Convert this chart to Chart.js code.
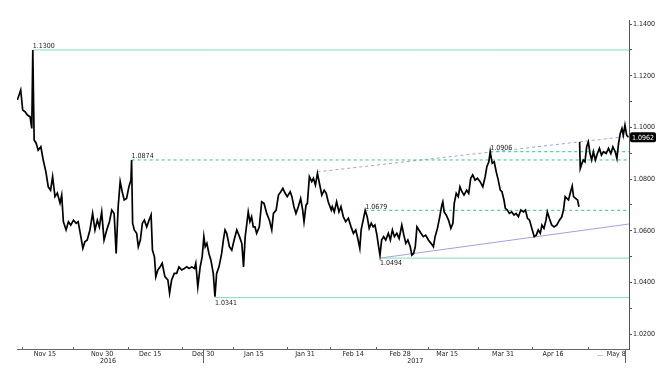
<!DOCTYPE html>
<html>
<head>
<meta charset="utf-8">
<script src="https://cdn.jsdelivr.net/npm/chart.js@4/dist/chart.umd.min.js"></script>
<style>
  body { margin: 0; background: #fff; }
</style>
</head>
<body>
<canvas id="fx-chart" width="666" height="375"></canvas>
<script>
// price series: x is the session position on the axis, y the close
const sessions = [
  0.1, 1.1, 1.7, 2.4, 3.1, 3.9, 4.4, 4.7, 5.1, 5.7, 6.3, 7.1, 7.8, 8.6, 9.3, 10.0, 10.6, 11.3, 12.0, 12.8,
  13.3, 13.8, 14.6, 15.3, 16.0, 16.8, 17.6, 18.2, 19.0, 19.6, 20.2, 20.9, 21.7, 22.5, 23.2, 23.9, 24.5, 25.2, 25.9, 26.7,
  27.5, 28.2, 28.9, 29.5, 30.1, 30.7, 31.3, 31.9, 32.6, 33.3, 33.9, 34.1, 34.4, 34.9, 35.6, 36.1, 36.7, 37.3, 37.9, 38.6,
  39.3, 39.9, 40.3, 40.9, 41.3, 41.9, 42.6, 43.2, 44.0, 44.9, 45.4, 46.0, 46.8, 47.5, 48.2, 49.0, 49.8, 50.5, 51.2, 52.0,
  52.8, 53.2, 53.8, 54.5, 55.1, 55.6, 56.0, 56.5, 57.1, 57.7, 58.4, 58.9, 59.4, 60.1, 60.9, 61.4, 61.9, 62.4, 63.2, 63.9,
  64.6, 65.4, 66.2, 66.9, 67.4, 67.9, 68.4, 68.8, 69.3, 69.8, 70.3, 70.8, 71.3, 72.1, 72.8, 73.5, 74.3, 75.1, 75.8, 76.3,
  77.1, 77.8, 78.5, 79.1, 79.8, 80.4, 81.3, 81.8, 82.4, 83.0, 83.7, 84.4, 85.0, 85.4, 86.0, 86.4, 87.0, 87.7, 88.2, 88.8,
  89.4, 90.0, 90.7, 91.4, 92.0, 92.6, 93.5, 93.8, 94.4, 95.1, 95.8, 96.4, 97.1, 97.8, 98.6, 99.4, 100.1, 100.8, 101.4, 102.0,
  102.4, 103.0, 103.6, 104.2, 104.8, 105.4, 106.0, 106.5, 107.1, 107.6, 108.0, 108.5, 109.1, 109.7, 110.5, 111.1, 111.7, 112.3, 113.0, 113.7,
  114.5, 115.1, 115.7, 116.3, 117.0, 117.5, 118.0, 118.5, 119.0, 119.6, 120.2, 120.9, 121.6, 122.4, 123.2, 123.9, 124.4, 125.1, 125.7, 126.4,
  126.7, 127.1, 127.7, 128.4, 129.1, 129.7, 130.1, 130.7, 131.3, 131.8, 132.4, 133.0, 133.8, 134.4, 135.0, 135.6, 136.3, 137.0, 137.8, 138.6,
  139.3, 139.8, 140.4, 140.8, 141.4, 142.0, 142.6, 143.2, 143.8, 144.3, 144.9, 145.3, 145.9, 146.5, 147.2, 147.9, 148.5, 149.2, 149.9, 150.7,
  151.3, 151.9, 152.5, 153.2, 153.9, 154.5, 155.1, 155.7, 156.2, 156.8, 157.4, 157.8, 158.4, 159.1, 159.8, 160.6, 161.4, 162.1, 162.6, 163.1,
  163.6, 164.1, 164.6, 165.2, 165.6, 166.2, 166.8, 167.2, 167.3, 167.4, 167.6, 168.1, 168.5, 169.0, 169.5, 170.0, 170.5, 171.0, 171.5, 172.1,
  172.7, 173.3, 173.9, 174.5, 175.3, 176.0, 176.7, 177.3, 178.0, 178.5, 179.0, 179.5, 180.0, 180.4, 180.9, 181.4, 181.9
];
const closes = [
  1.1106, 1.1145, 1.1067, 1.1061, 1.1048, 1.1041, 1.0996, 1.1300, 1.0951, 1.0939, 1.0912, 1.0925, 1.0874, 1.0828, 1.0770, 1.0757, 1.0809, 1.0732, 1.0746, 1.0707,
  1.0738, 1.0635, 1.0603, 1.0635, 1.0622, 1.0641, 1.0629, 1.0635, 1.0577, 1.0532, 1.0557, 1.0564, 1.0603, 1.0667, 1.0603, 1.0641, 1.0615, 1.0673, 1.0564, 1.0603,
  1.0635, 1.0680, 1.0667, 1.0512, 1.0693, 1.0790, 1.0751, 1.0719, 1.0725, 1.0770, 1.0796, 1.0874, 1.0629, 1.0603, 1.0590, 1.0538, 1.0564, 1.0629, 1.0641, 1.0615,
  1.0641, 1.0661, 1.0525, 1.0499, 1.0422, 1.0448, 1.0460, 1.0474, 1.0422, 1.0409, 1.0358, 1.0409, 1.0435, 1.0435, 1.0460, 1.0448, 1.0454, 1.0460, 1.0454, 1.0460,
  1.0454, 1.0474, 1.0383, 1.0460, 1.0499, 1.0577, 1.0538, 1.0551, 1.0512, 1.0486, 1.0435, 1.0345, 1.0435, 1.0460, 1.0512, 1.0564, 1.0603, 1.0590, 1.0538, 1.0525,
  1.0564, 1.0603, 1.0577, 1.0551, 1.0460, 1.0577, 1.0629, 1.0673, 1.0635, 1.0654, 1.0615, 1.0615, 1.0590, 1.0615, 1.0712, 1.0706, 1.0667, 1.0641, 1.0603, 1.0667,
  1.0680, 1.0738, 1.0751, 1.0764, 1.0745, 1.0732, 1.0751, 1.0732, 1.0693, 1.0667, 1.0693, 1.0725, 1.0680, 1.0635, 1.0699, 1.0706, 1.0809, 1.0790, 1.0803, 1.0777,
  1.0822, 1.0783, 1.0738, 1.0757, 1.0745, 1.0712, 1.0680, 1.0693, 1.0673, 1.0712, 1.0673, 1.0693, 1.0654, 1.0635, 1.0648, 1.0615, 1.0590, 1.0603, 1.0570, 1.0532,
  1.0603, 1.0641, 1.0679, 1.0654, 1.0609, 1.0629, 1.0615, 1.0622, 1.0583, 1.0538, 1.0505, 1.0564, 1.0577, 1.0564, 1.0590, 1.0564, 1.0603, 1.0577, 1.0590, 1.0570,
  1.0622, 1.0583, 1.0551, 1.0564, 1.0538, 1.0506, 1.0512, 1.0538, 1.0615, 1.0603, 1.0590, 1.0577, 1.0583, 1.0564, 1.0551, 1.0538, 1.0577, 1.0609, 1.0648, 1.0699,
  1.0712, 1.0673, 1.0661, 1.0641, 1.0609, 1.0629, 1.0706, 1.0745, 1.0732, 1.0770, 1.0751, 1.0738, 1.0757, 1.0745, 1.0803, 1.0816, 1.0796, 1.0803, 1.0790, 1.0770,
  1.0809, 1.0848, 1.0867, 1.0906, 1.0861, 1.0867, 1.0828, 1.0796, 1.0757, 1.0751, 1.0719, 1.0687, 1.0680, 1.0667, 1.0673, 1.0661, 1.0667, 1.0654, 1.0680, 1.0673,
  1.0680, 1.0648, 1.0641, 1.0609, 1.0577, 1.0583, 1.0603, 1.0590, 1.0622, 1.0609, 1.0641, 1.0673, 1.0648, 1.0622, 1.0615, 1.0622, 1.0641, 1.0654, 1.0680, 1.0732,
  1.0725, 1.0719, 1.0745, 1.0773, 1.0732, 1.0725, 1.0719, 1.0693, null, 1.0944, 1.0841, 1.0861, 1.0874, 1.0867, 1.0925, 1.0944, 1.0899, 1.0874, 1.0906, 1.0874,
  1.0899, 1.0919, 1.0893, 1.0906, 1.0899, 1.0919, 1.0899, 1.0925, 1.0906, 1.0880, 1.0938, 1.0977, 1.0996, 1.0970, 1.1009, 1.0970, 1.0962
];

// horizontal levels (value, where it starts, style)
const levelValues = [1.1300, 1.0874, 1.0906, 1.0679, 1.0494, 1.0341];
const levelStart = [4.7, 34.1, 140.8, 103.6, 108.0, 58.9];
const levelDashed = [false, true, true, true, false, false];
const labelBelow = [false, false, false, false, true, true];

// trend lines: [start session, start value, end session, end value]
const upperTrend = [89.4, 1.0828, 182.1, 1.0966];
const lowerTrend = [108.0, 1.0494, 182.1, 1.0626];

// axes
const xLabels = ['Nov 15', 'Nov 30', 'Dec 15', 'Dec 30', 'Jan 15', 'Jan 31', 'Feb 14', 'Feb 28', 'Mar 15', 'Mar 31', 'Apr 16', '...', 'May 8'];
const xLabelPos = [8.3, 25.3, 39.6, 55.4, 70.5, 85.7, 100.0, 114.0, 128.0, 144.6, 159.5, 173.5, 178.3];
const xMarkPos = [1.5, 16.7, 33.0, 49.1, 64.3, 80.4, 93.2, 106.8, 122.3, 137.2, 153.3, 170.0];
const yearLabels = ['2016', '2017'];
const yearPos = [27.1, 118.5];
const yearBreaks = [55.4, 181.0];
const yTicks = [1.02, 1.03, 1.04, 1.05, 1.06, 1.07, 1.08, 1.09, 1.10, 1.11, 1.12, 1.13, 1.14];

const X_MIN = 0, X_MAX = 182.1;
const SMALL_FONT = '"DejaVu Sans Condensed", "DejaVu Sans", sans-serif';

const solidGreen = '#86dbbb';
const dashGreen = '#33c48a';
const lilac = '#9ea4da';

// build datasets
let priceData = sessions.map((s, i) => ({x: s, y: closes[i]}));

let datasets = [
  {
    label: 'EURUSD',
    data: priceData,
    borderColor: '#000',
    borderWidth: 1.7,
    pointRadius: 0,
    tension: 0,
    spanGaps: false,
  },
];

levelValues.forEach((v, i) => {
  datasets.push({
    label: 'level ' + v.toFixed(4),
    data: [{x: levelStart[i], y: v}, {x: X_MAX, y: v}],
    borderColor: levelDashed[i] ? dashGreen : solidGreen,
    borderWidth: 1,
    borderDash: levelDashed[i] ? [3, 3] : [],
    pointRadius: 0,
  });
});

datasets.push({
  label: 'upper trend',
  data: [{x: upperTrend[0], y: upperTrend[1]}, {x: upperTrend[2], y: upperTrend[3]}],
  borderColor: lilac,
  borderWidth: 1,
  borderDash: [3, 3],
  pointRadius: 0,
});
datasets.push({
  label: 'lower trend',
  data: [{x: lowerTrend[0], y: lowerTrend[1]}, {x: lowerTrend[2], y: lowerTrend[3]}],
  borderColor: lilac,
  borderWidth: 1,
  pointRadius: 0,
});

// level labels, last price badge, x tick marks and years
const decorations = {
  id: 'decorations',
  afterDraw(chart) {
    const {ctx, scales: {x, y}} = chart;
    ctx.save();
    ctx.font = '7px ' + SMALL_FONT;
    ctx.fillStyle = '#222';
    ctx.textAlign = 'left';
    levelValues.forEach((v, i) => {
      let px = x.getPixelForValue(levelStart[i]);
      let py = y.getPixelForValue(v);
      if (labelBelow[i]) {
        ctx.textBaseline = 'top';
        ctx.fillText(v.toFixed(4), px, py + 2);
      } else {
        ctx.textBaseline = 'bottom';
        ctx.fillText(v.toFixed(4), px, py);
      }
    });

    // last price box on the axis
    let last = closes[closes.length - 1];
    let ly = y.getPixelForValue(last);
    let bx = chart.chartArea.right + 1;
    ctx.fillStyle = '#000';
    ctx.beginPath();
    ctx.roundRect(bx, ly - 5, 26, 10, 2);
    ctx.fill();
    ctx.fillStyle = '#fff';
    ctx.textBaseline = 'middle';
    ctx.fillText(last.toFixed(4), bx + 2, ly + 0.5);

    // small tick marks between labels
    let base = chart.chartArea.bottom;
    ctx.strokeStyle = '#666';
    ctx.lineWidth = 1;
    ctx.beginPath();
    xMarkPos.forEach(p => {
      let px = Math.round(x.getPixelForValue(p)) + 0.5;
      ctx.moveTo(px, base - 2);
      ctx.lineTo(px, base + 1);
    });
    yearBreaks.forEach(p => {
      let px = Math.round(x.getPixelForValue(p)) + 0.5;
      ctx.moveTo(px, base);
      ctx.lineTo(px, base + 14);
    });
    ctx.stroke();

    ctx.fillStyle = '#222';
    ctx.textAlign = 'center';
    ctx.textBaseline = 'middle';
    yearLabels.forEach((t, i) => {
      ctx.fillText(t, x.getPixelForValue(yearPos[i]), base + 12);
    });
    ctx.restore();
  }
};

const ctx = document.getElementById('fx-chart').getContext('2d');
new Chart(ctx, {
  type: 'line',
  data: {datasets: datasets},
  options: {
    responsive: false,
    animation: false,
    layout: {padding: {top: 20, left: 17, right: 0, bottom: 0}},
    plugins: {legend: {display: false}, tooltip: {enabled: false}},
    scales: {
      x: {
        type: 'linear',
        min: X_MIN,
        max: X_MAX,
        afterFit: s => { s.height = 26; },
        afterBuildTicks: s => { s.ticks = xLabelPos.map(v => ({value: v})); },
        ticks: {
          autoSkip: false,
          maxRotation: 0,
          padding: 1,
          color: '#222',
          font: {family: SMALL_FONT, size: 7},
          callback: (v, i) => xLabels[i],
        },
        grid: {display: true, drawOnChartArea: false, drawTicks: false},
        border: {display: true, color: '#666'},
      },
      y: {
        position: 'right',
        min: 1.0142,
        max: 1.1416,
        afterFit: s => { s.width = 37; },
        afterBuildTicks: s => { s.ticks = yTicks.map(v => ({value: v})); },
        ticks: {
          padding: 1,
          color: '#222',
          font: {family: SMALL_FONT, size: 7},
          callback: (v, i) => (i % 2 === 0 ? v.toFixed(4) : ''),
        },
        grid: {drawOnChartArea: false, drawTicks: true, tickLength: 3, color: '#555'},
        border: {display: true, color: '#555'},
      },
    },
  },
  plugins: [decorations],
});
</script>
</body>
</html>
